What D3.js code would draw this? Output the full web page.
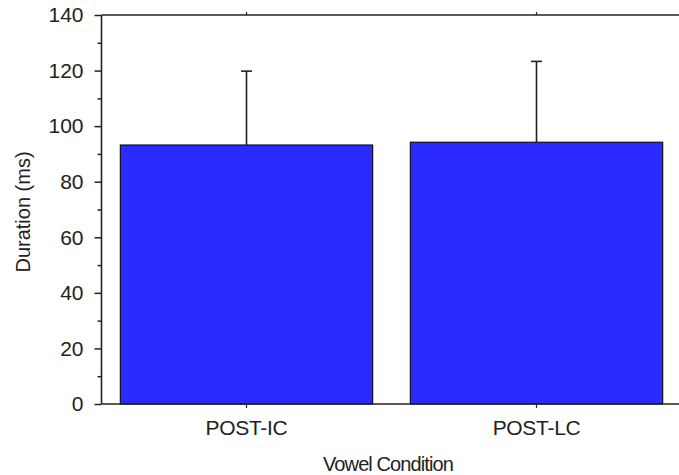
<!DOCTYPE html>
<html>
<head>
<meta charset="utf-8">
<script src="https://cdn.jsdelivr.net/npm/d3@7"></script>
<style>
  html, body { margin: 0; padding: 0; background: #fff; }
  svg { display: block; }
  text { font-family: "Liberation Sans", Arial, sans-serif; fill: #222; }
</style>
</head>
<body>
<svg id="chart" width="679" height="475"></svg>
<script>
const categories = ["POST-IC", "POST-LC"];
const means = [93.2, 94.2];
const errorTops = [119.8, 123.3];
const yTicks = [0, 20, 40, 60, 80, 100, 120, 140];
const yMinorTicks = [10, 30, 50, 70, 90, 110, 130];
const xTitle = "Vowel Condition";
const yTitle = "Duration (ms)";

const svg = d3.select("#chart");
const mLeft = 101.5, mRight = 681.5, mTop = 15, mBottom = 404;

const x = d3.scaleBand().domain(categories).range([mLeft, mRight])
  .paddingInner(0.13).paddingOuter(0.065);
const y = d3.scaleLinear().domain([0, 140]).range([mBottom, mTop]);

// bars
svg.append("g").selectAll("rect").data(categories).join("rect")
  .attr("x", d => x(d))
  .attr("y", (d, i) => y(means[i]))
  .attr("width", x.bandwidth())
  .attr("height", (d, i) => y(0) - y(means[i]))
  .attr("fill", "#2b2bff")
  .attr("stroke", "#111")
  .attr("stroke-width", 1.2);

// error bars (upper only)
const eb = svg.append("g").attr("stroke", "#222").attr("stroke-width", 1.6);
categories.forEach((c, i) => {
  const cx = x(c) + x.bandwidth() / 2;
  eb.append("line").attr("x1", cx).attr("x2", cx)
    .attr("y1", y(means[i])).attr("y2", y(errorTops[i]));
  eb.append("line").attr("x1", cx - 5.5).attr("x2", cx + 5.5)
    .attr("y1", y(errorTops[i])).attr("y2", y(errorTops[i]));
});

// left axis with major ticks
const yAxis = d3.axisLeft(y).tickValues(yTicks).tickSize(7).tickPadding(11).tickFormat(d3.format("d"));
const gy = svg.append("g").attr("transform", `translate(${mLeft},0)`).call(yAxis);
gy.select(".domain").remove();
gy.selectAll(".tick line").attr("stroke", "#222").attr("stroke-width", 1.5);
gy.selectAll(".tick text").style("font-size", "21px").attr("fill", "#222");

// minor ticks
const gm = svg.append("g").attr("transform", `translate(${mLeft},0)`)
  .call(d3.axisLeft(y).tickValues(yMinorTicks).tickSize(4).tickFormat(""));
gm.select(".domain").remove();
gm.selectAll(".tick line").attr("stroke", "#222").attr("stroke-width", 1.5);

// bottom axis ticks
const gx = svg.append("g").attr("transform", `translate(0,${mBottom})`)
  .call(d3.axisBottom(x).tickSize(4).tickPadding(12));
gx.select(".domain").remove();
gx.selectAll(".tick line").attr("stroke", "#222").attr("stroke-width", 1.2);
gx.selectAll(".tick text").style("font-size", "21px").style("letter-spacing", "-0.3px").attr("fill", "#222");

// top axis ticks
const gt = svg.append("g").attr("transform", `translate(0,${mTop})`)
  .call(d3.axisTop(x).tickSize(3).tickFormat(""));
gt.select(".domain").remove();
gt.selectAll(".tick line").attr("stroke", "#222").attr("stroke-width", 1.2);

// frame
const frame = svg.append("g").attr("stroke", "#222").attr("stroke-width", 1.6).attr("fill", "none");
frame.append("line").attr("x1", mLeft).attr("x2", mLeft).attr("y1", mTop).attr("y2", mBottom);
frame.append("line").attr("x1", mLeft).attr("x2", mRight).attr("y1", mBottom).attr("y2", mBottom);
frame.append("line").attr("x1", mLeft).attr("x2", mRight).attr("y1", mTop).attr("y2", mTop);
frame.append("line").attr("x1", 680).attr("x2", 680).attr("y1", mTop).attr("y2", mBottom);

// titles
svg.append("text")
  .attr("x", 388).attr("y", 471)
  .attr("text-anchor", "middle")
  .style("font-size", "20px").style("letter-spacing", "-0.9px")
  .text(xTitle);
svg.append("text")
  .attr("transform", "translate(30,212) rotate(-90)")
  .attr("text-anchor", "middle")
  .style("font-size", "20px")
  .text(yTitle);
</script>
</body>
</html>
